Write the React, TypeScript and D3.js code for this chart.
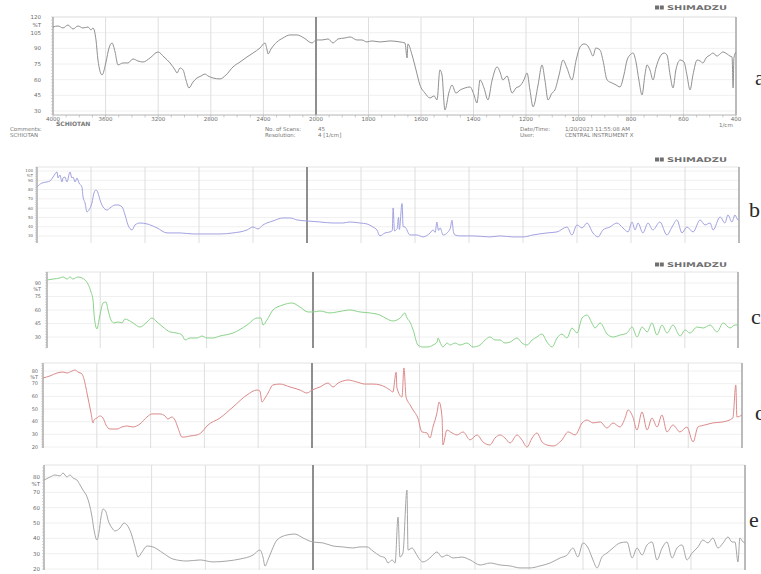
import React from "react";
import * as d3 from "d3";

// ---------- data ----------
const X_TICKS = [4000, 3600, 3200, 2800, 2400, 2000, 1800, 1600, 1400, 1200, 1000, 800, 600, 400];
const Y_TICKS_A = [120, 105, 90, 75, 60, 45, 30];
const Y_TICKS_B = [100, 90, 80, 70, 60, 50, 40, 30];
const Y_TICKS_C = [90, 75, 60, 45, 30];
const Y_TICKS_D = [80, 70, 60, 50, 40, 30, 20];
const Y_TICKS_E = [80, 70, 60, 50, 40, 30, 20];
const PANEL_LETTERS = ["a", "b", "c", "d", "e"];

type P = [number, number];

const SPEC_A: P[] = [[4000,110.4],[3962,111.4],[3924,109.5],[3886,112.3],[3848,108.5],[3810,111.4],[3772,109.5],[3734,110.4],[3711,107.6],[3696,109.5],[3673,98.0],[3658,78.8],[3627,64.5],[3597,76.9],[3574,90.3],[3551,95.1],[3528,86.5],[3506,74.1],[3468,76.0],[3430,76.0],[3392,79.8],[3354,77.9],[3316,76.9],[3262,80.8],[3201,86.5],[3156,81.7],[3110,76.0],[3072,69.3],[3057,66.4],[3034,71.2],[3011,69.3],[2989,59.7],[2966,52.1],[2935,57.8],[2905,61.6],[2874,63.5],[2844,65.4],[2821,63.5],[2783,61.6],[2730,60.7],[2684,64.5],[2631,72.2],[2578,76.9],[2525,81.7],[2479,85.5],[2426,90.3],[2388,95.1],[2372,88.4],[2365,84.6],[2342,89.4],[2297,96.1],[2251,99.9],[2198,102.8],[2144,102.8],[2091,99.9],[2030,95.1],[2000,98.0],[1977,98.0],[1954,99.0],[1935,95.1],[1916,99.0],[1890,99.9],[1870,100.9],[1844,98.0],[1825,98.0],[1806,96.1],[1787,97.1],[1756,96.1],[1718,97.1],[1680,96.1],[1661,95.1],[1653,80.8],[1650,94.2],[1634,83.6],[1619,69.3],[1604,54.9],[1585,47.2],[1566,42.5],[1550,44.4],[1539,40.6],[1528,69.3],[1520,64.5],[1509,31.0],[1493,48.3],[1482,54.9],[1467,47.2],[1451,50.1],[1432,52.1],[1413,53.0],[1398,45.4],[1387,37.7],[1375,59.7],[1360,52.1],[1345,40.6],[1329,59.7],[1310,72.2],[1299,67.4],[1288,59.7],[1272,63.5],[1253,47.2],[1238,52.1],[1223,54.0],[1208,59.7],[1196,66.4],[1185,50.1],[1173,33.9],[1154,54.9],[1139,74.1],[1128,59.7],[1116,40.6],[1101,47.2],[1090,50.1],[1074,64.5],[1059,78.8],[1044,71.2],[1025,59.7],[1009,78.8],[994,91.3],[979,94.2],[968,93.3],[956,88.4],[945,82.6],[934,90.3],[918,88.4],[907,78.8],[891,59.7],[872,56.8],[857,54.9],[842,53.0],[827,64.5],[815,78.8],[804,83.6],[792,85.5],[781,76.9],[770,59.7],[758,45.4],[747,64.5],[739,74.1],[728,69.3],[716,59.7],[705,71.2],[690,81.7],[674,85.5],[663,83.6],[651,64.5],[640,52.1],[629,69.3],[613,78.8],[598,76.9],[587,64.5],[575,50.1],[564,64.5],[548,78.8],[537,77.9],[526,76.0],[514,80.8],[499,83.6],[488,85.5],[472,82.6],[461,84.6],[450,86.5],[434,84.6],[423,82.6],[415,81.7],[411,52.1],[408,80.8],[400,86.5]];

const SPEC_B: P[] = [[4000,82.8],[3963,87.1],[3926,88.2],[3904,89.2],[3881,93.5],[3852,98.9],[3844,92.5],[3830,95.7],[3815,88.2],[3807,92.5],[3793,93.5],[3778,88.2],[3756,98.9],[3741,92.5],[3733,93.5],[3718,88.2],[3704,92.5],[3689,87.1],[3667,82.8],[3659,72.0],[3644,65.6],[3630,55.9],[3615,58.0],[3593,65.6],[3578,76.3],[3563,79.6],[3548,76.3],[3533,68.8],[3511,61.3],[3481,58.0],[3459,60.2],[3422,63.4],[3400,63.4],[3370,61.3],[3348,52.7],[3326,41.9],[3296,36.5],[3274,41.9],[3237,44.0],[3185,43.0],[3111,38.7],[3037,33.3],[2940,33.3],[2844,32.2],[2740,32.2],[2644,32.2],[2548,33.3],[2444,36.5],[2400,39.7],[2363,37.6],[2326,41.9],[2252,46.2],[2178,49.4],[2126,49.4],[2074,47.3],[2000,46.2],[1952,45.1],[1904,44.0],[1867,44.0],[1841,45.1],[1804,44.0],[1778,43.0],[1756,39.7],[1741,36.5],[1730,30.1],[1711,33.3],[1693,34.4],[1684,36.0],[1681,60.2],[1676,35.5],[1666,38.0],[1661,50.0],[1658,37.0],[1648,65.0],[1644,40.0],[1637,39.7],[1619,31.1],[1593,31.1],[1570,29.0],[1544,33.3],[1533,36.5],[1525,34.0],[1519,45.0],[1513,36.0],[1507,38.7],[1496,31.1],[1470,37.6],[1463,47.0],[1458,35.0],[1452,31.1],[1433,30.1],[1385,30.1],[1322,29.0],[1285,30.1],[1237,29.0],[1200,29.0],[1163,31.1],[1111,33.3],[1074,34.4],[1037,39.7],[1019,31.1],[1000,41.9],[981,38.7],[963,44.0],[941,33.3],[922,29.0],[904,36.5],[878,39.7],[852,44.0],[830,38.7],[811,34.4],[796,45.1],[785,36.5],[774,44.0],[756,33.3],[737,44.0],[719,36.5],[693,45.1],[667,31.1],[648,39.7],[630,47.3],[611,33.3],[593,39.7],[570,34.4],[544,47.3],[526,41.9],[507,44.0],[496,36.5],[470,50.5],[452,44.0],[441,52.7],[426,45.1],[415,52.7],[404,47.3],[400,48.0]];

const SPEC_C: P[] = [[4000,93.3],[3955,94.4],[3902,95.6],[3880,96.7],[3850,94.4],[3827,96.7],[3805,94.4],[3767,96.7],[3737,95.6],[3714,93.3],[3692,88.9],[3669,80.0],[3654,71.1],[3647,56.7],[3632,41.1],[3624,38.9],[3609,48.9],[3594,60.0],[3579,67.8],[3556,68.9],[3541,60.0],[3519,48.9],[3496,45.6],[3466,46.7],[3436,45.6],[3414,50.0],[3391,48.9],[3353,45.6],[3301,41.1],[3248,46.7],[3211,51.1],[3173,46.7],[3128,41.1],[3075,35.6],[3023,34.4],[2985,32.2],[2962,26.7],[2925,28.9],[2872,28.9],[2835,31.1],[2797,28.9],[2752,28.9],[2699,31.1],[2602,34.4],[2496,43.3],[2421,51.1],[2391,51.1],[2376,43.3],[2346,48.9],[2301,60.0],[2226,65.6],[2158,67.8],[2098,63.3],[2038,57.8],[2000,57.8],[1974,58.9],[1936,56.7],[1910,57.8],[1861,60.0],[1823,57.8],[1785,56.7],[1748,54.4],[1721,50.0],[1699,47.8],[1672,51.1],[1654,56.7],[1646,51.1],[1635,46.7],[1623,37.8],[1605,21.1],[1586,18.9],[1567,18.9],[1548,21.1],[1533,24.4],[1529,28.9],[1522,24.4],[1511,18.9],[1495,23.3],[1484,21.1],[1465,23.3],[1447,21.1],[1420,23.3],[1398,18.9],[1371,21.1],[1352,26.7],[1334,30.0],[1315,26.7],[1296,26.7],[1277,23.3],[1258,24.4],[1232,28.9],[1213,23.3],[1194,21.1],[1175,26.7],[1157,30.0],[1138,33.3],[1119,24.4],[1100,18.9],[1081,28.9],[1063,33.3],[1044,28.9],[1025,40.0],[1006,34.4],[987,51.1],[968,54.4],[950,45.6],[938,40.0],[919,45.6],[893,33.3],[870,30.0],[844,32.2],[818,34.4],[799,41.1],[780,30.0],[761,41.1],[742,35.6],[724,45.6],[705,32.2],[686,43.3],[667,34.4],[645,43.3],[618,31.1],[599,37.8],[581,34.4],[554,41.1],[531,40.0],[505,43.3],[479,35.6],[456,45.6],[430,40.0],[411,43.3],[400,43.3]];

const SPEC_D: P[] = [[4000,74.5],[3948,76.1],[3896,78.4],[3851,79.2],[3822,78.4],[3784,80.0],[3762,80.8],[3740,79.2],[3710,77.6],[3688,70.5],[3673,62.6],[3658,54.8],[3643,46.9],[3628,39.0],[3621,41.3],[3599,42.9],[3576,44.5],[3554,42.9],[3532,37.4],[3502,34.2],[3450,34.2],[3413,35.8],[3375,36.6],[3331,35.8],[3279,38.2],[3227,43.7],[3190,46.1],[3130,46.1],[3093,44.5],[3071,42.1],[3041,43.7],[3019,41.3],[2996,35.0],[2967,27.9],[2944,27.9],[2907,28.7],[2855,29.5],[2818,31.9],[2781,36.6],[2684,42.9],[2587,51.6],[2483,61.1],[2409,65.0],[2387,64.2],[2372,55.5],[2349,58.7],[2327,62.6],[2290,69.0],[2238,69.7],[2164,67.4],[2089,65.0],[2037,62.6],[2000,65.0],[1970,67.4],[1940,70.5],[1922,67.4],[1903,70.5],[1885,72.1],[1866,72.9],[1833,71.3],[1803,69.7],[1773,69.7],[1747,69.0],[1728,67.4],[1710,65.0],[1699,63.4],[1687,79.0],[1684,66.6],[1665,59.5],[1658,82.4],[1650,59.5],[1635,53.2],[1624,49.2],[1606,42.9],[1591,31.9],[1572,31.1],[1561,27.1],[1550,35.8],[1535,46.9],[1527,55.5],[1516,42.9],[1513,21.6],[1498,33.4],[1479,31.1],[1460,29.5],[1438,31.9],[1412,25.6],[1386,29.5],[1364,24.0],[1338,21.6],[1319,27.1],[1300,29.5],[1282,27.1],[1263,23.2],[1237,29.5],[1219,25.6],[1200,20.0],[1181,27.1],[1163,31.1],[1144,24.0],[1126,21.6],[1103,20.8],[1070,25.6],[1047,31.9],[1021,29.5],[995,39.0],[977,41.3],[954,39.0],[928,39.8],[902,35.0],[880,39.0],[854,35.8],[835,42.9],[824,49.2],[806,43.7],[791,33.4],[772,47.7],[753,33.4],[735,42.9],[716,35.8],[698,45.3],[679,31.9],[657,37.4],[631,31.9],[605,35.8],[582,24.0],[564,35.8],[538,37.4],[508,39.0],[471,39.8],[434,42.9],[423,69.0],[419,43.7],[400,45.3]];

const SPEC_E: P[] = [[4000,78.0],[3955,80.0],[3918,81.3],[3881,80.7],[3859,82.6],[3829,80.0],[3807,81.3],[3784,79.3],[3755,78.0],[3732,74.8],[3710,71.5],[3680,67.0],[3665,63.0],[3643,53.9],[3628,45.4],[3606,38.9],[3591,44.1],[3576,53.9],[3561,59.1],[3539,57.2],[3524,52.0],[3494,46.7],[3472,44.8],[3435,46.7],[3405,50.0],[3383,48.7],[3353,43.5],[3323,34.4],[3301,27.8],[3271,31.1],[3234,35.0],[3190,34.4],[3115,30.4],[3041,26.5],[2937,25.2],[2840,25.9],[2744,24.6],[2639,25.2],[2543,26.5],[2446,29.1],[2394,32.4],[2372,27.8],[2357,21.9],[2335,25.9],[2305,32.4],[2268,38.9],[2193,42.2],[2134,42.8],[2074,40.2],[2000,37.6],[1963,37.0],[1926,35.0],[1889,34.4],[1852,33.7],[1826,34.4],[1800,34.4],[1778,31.7],[1752,28.5],[1733,27.2],[1722,23.9],[1707,25.9],[1696,23.9],[1685,53.9],[1678,27.8],[1667,30.4],[1652,71.5],[1648,32.4],[1633,33.7],[1622,31.1],[1611,27.8],[1593,24.6],[1567,27.2],[1556,29.1],[1541,31.1],[1522,27.8],[1504,29.1],[1481,27.2],[1448,27.8],[1418,25.9],[1381,22.6],[1344,23.9],[1307,22.6],[1270,22.0],[1233,20.7],[1196,20.7],[1159,22.0],[1122,23.9],[1085,27.2],[1059,29.1],[1037,33.7],[1019,27.8],[1000,37.0],[981,33.7],[963,25.9],[948,20.7],[930,27.8],[911,30.4],[889,33.7],[863,37.0],[837,37.6],[818,27.2],[800,33.7],[781,29.1],[763,35.7],[744,37.6],[726,25.9],[707,33.7],[689,37.6],[670,27.2],[652,33.7],[633,35.7],[615,25.9],[596,30.4],[574,34.4],[556,38.9],[537,37.0],[519,40.2],[500,33.7],[481,37.0],[463,40.9],[448,37.6],[437,37.6],[426,24.6],[419,40.2],[407,37.6],[400,37.0]];

// ---------- layout (positions / styles) ----------
const LAYOUT = [
  { data: SPEC_A, ticks: Y_TICKS_A, x: [53, 316, 736], top: 17, bottom: 115, yr: [111, 17], pctY: 25, lblR: 41, fs: 5.5, color: "#909090", letter: [755, 85], logoY: 9, xAxis: true },
  { data: SPEC_B, ticks: Y_TICKS_B, x: [37, 307, 739], top: 167, bottom: 243, yr: [236, 171], pctY: 175.6, lblR: 33, fs: 4, color: "#a2a2e2", letter: [749, 217], logoY: 161, xAxis: false },
  { data: SPEC_C, ticks: Y_TICKS_C, x: [47, 313, 738], top: 272, bottom: 348, yr: [337, 283], pctY: 289.5, lblR: 41, fs: 5, color: "#8ad38a", letter: [751, 324], logoY: 266, xAxis: false },
  { data: SPEC_D, ticks: Y_TICKS_D, x: [43, 312, 742], top: 363, bottom: 448, yr: [447, 371], pctY: 377, lblR: 38, fs: 5, color: "#dc8a8a", letter: [755, 420], logoY: null, xAxis: false },
  { data: SPEC_E, ticks: Y_TICKS_E, x: [44, 313, 745], top: 465, bottom: 570, yr: [569, 477], pctY: 484.5, lblR: 40, fs: 5.5, color: "#a6a6a6", letter: [749, 527], logoY: null, xAxis: false },
];

const FONT = "DejaVu Sans, sans-serif";

function Logo({ x, y }: { x: number; y: number }) {
  return (
    <g>
      <rect x={x} y={y - 3.5} width={4} height={4} fill="#707070" />
      <rect x={x + 4.8} y={y - 3.5} width={4} height={4} fill="#707070" />
      <text x={x + 12} y={y + 1} fontSize={6.5} fontWeight="bold" fill="#707070" fontFamily={FONT} textLength={60} lengthAdjust="spacingAndGlyphs">SHIMADZU</text>
    </g>
  );
}

function Panel({ cfg, idx }: { cfg: any; idx: number }) {
  const xs = d3.scaleLinear().domain([4000, 2000, 400]).range(cfg.x);
  const tmin = d3.min(cfg.ticks as number[])!;
  const tmax = d3.max(cfg.ticks as number[])!;
  const ys = d3.scaleLinear().domain([tmin, tmax]).range(cfg.yr);
  const line = d3.line<P>().x((d) => xs(d[0])).y((d) => ys(d[1])).curve(d3.curveMonotoneX);
  const left = cfg.x[0];
  const right = cfg.x[2];
  const step = (cfg.ticks[0] - cfg.ticks[1]);
  const minor: number[] = [];
  const lo = ys.invert(cfg.bottom);
  const hi = ys.invert(cfg.top);
  for (let v = tmin - step; v <= hi; v += step / 5) if (v >= lo) minor.push(v);
  const clipId = "clip" + idx;
  const xMinor: number[] = [];
  if (cfg.xAxis) {
    for (let w = 4000; w >= 2000; w -= 100) xMinor.push(w);
    for (let w = 1950; w >= 400; w -= 50) xMinor.push(w);
  }
  return (
    <g>
      <defs>
        <clipPath id={clipId}>
          <rect x={left} y={cfg.top} width={right - left} height={cfg.bottom - cfg.top} />
        </clipPath>
      </defs>
      {cfg.ticks.map((t: number) => (
        <line key={"h" + t} x1={left} x2={right} y1={ys(t)} y2={ys(t)} stroke="#f0f0f0" strokeWidth={1} />
      ))}
      <line x1={left} x2={right} y1={cfg.top} y2={cfg.top} stroke="#e4e4e4" />
      {X_TICKS.slice(1, -1).map((w) => (
        <line key={"v" + w} x1={xs(w)} x2={xs(w)} y1={cfg.top} y2={cfg.bottom}
          stroke={w === 2000 ? "#8e8e8e" : "#dedede"} strokeWidth={w === 2000 ? 2 : 1} />
      ))}
      <line x1={left} x2={left} y1={cfg.top} y2={cfg.bottom} stroke="#ababab" strokeWidth={1.5} />
      <line x1={right} x2={right} y1={cfg.top} y2={cfg.bottom} stroke="#a4a4a4" strokeWidth={1.5} />
      {cfg.xAxis && <line x1={left} x2={right} y1={cfg.bottom} y2={cfg.bottom} stroke="#b4b4b4" />}
      {minor.map((v, i) => (
        <line key={"m" + i} x1={left - 2} x2={left} y1={ys(v)} y2={ys(v)} stroke="#bbb" strokeWidth={0.6} />
      ))}
      {cfg.ticks.map((t: number) => (
        <text key={"yl" + t} x={cfg.lblR} y={ys(t) + cfg.fs * 0.36} fontSize={cfg.fs} textAnchor="end" fill="#6a6a6a" fontFamily={FONT}>{t}</text>
      ))}
      <text x={cfg.lblR} y={cfg.pctY + cfg.fs * 0.36} fontSize={cfg.fs} textAnchor="end" fill="#6a6a6a" fontFamily={FONT}>%T</text>
      {cfg.xAxis && xMinor.map((w) => (
        <line key={"xm" + w} x1={xs(w)} x2={xs(w)} y1={cfg.bottom} y2={cfg.bottom + 2.5} stroke="#aaa" strokeWidth={0.6} />
      ))}
      {cfg.xAxis && X_TICKS.map((w) => (
        <text key={"xl" + w} x={xs(w)} y={cfg.bottom + 6} fontSize={5.5} textAnchor="middle" fill="#6a6a6a" fontFamily={FONT}>{w}</text>
      ))}
      <path d={line(cfg.data) || ""} fill="none" stroke={cfg.color} strokeWidth={1} clipPath={`url(#${clipId})`} strokeLinejoin="round" />
      {cfg.logoY !== null && <Logo x={655} y={cfg.logoY} />}
      <text x={cfg.letter[0]} y={cfg.letter[1]} fontSize={22} fill="#2a2a2a" fontFamily="Liberation Serif, DejaVu Serif, serif">{PANEL_LETTERS[idx]}</text>
    </g>
  );
}

export default function App() {
  return (
    <svg width={761} height={574} viewBox="0 0 761 574"
      style={{ position: "absolute", left: 0, top: 0, background: "#fff", display: "block" }}
      xmlns="http://www.w3.org/2000/svg">
      <rect x={0} y={0} width={761} height={574} fill="#fff" />
      {LAYOUT.map((cfg, i) => <Panel key={i} cfg={cfg} idx={i} />)}
      <g fontFamily={FONT} fontSize={5.5} fill="#777">
        <text x={56} y={126} fontWeight="bold" fontSize={6}>SCHIOTAN</text>
        <text x={719} y={127}>1/cm</text>
        <text x={10} y={131}>Comments:</text>
        <text x={10} y={137}>SCHIOTAN</text>
        <text x={265} y={131}>No. of Scans:</text>
        <text x={318} y={131}>45</text>
        <text x={265} y={137}>Resolution:</text>
        <text x={318} y={137}>4 [1/cm]</text>
        <text x={520} y={131}>Date/Time:</text>
        <text x={565} y={131}>1/20/2023 11:55:08 AM</text>
        <text x={520} y={137}>User:</text>
        <text x={565} y={137}>CENTRAL INSTRUMENT X</text>
      </g>
    </svg>
  );
}
